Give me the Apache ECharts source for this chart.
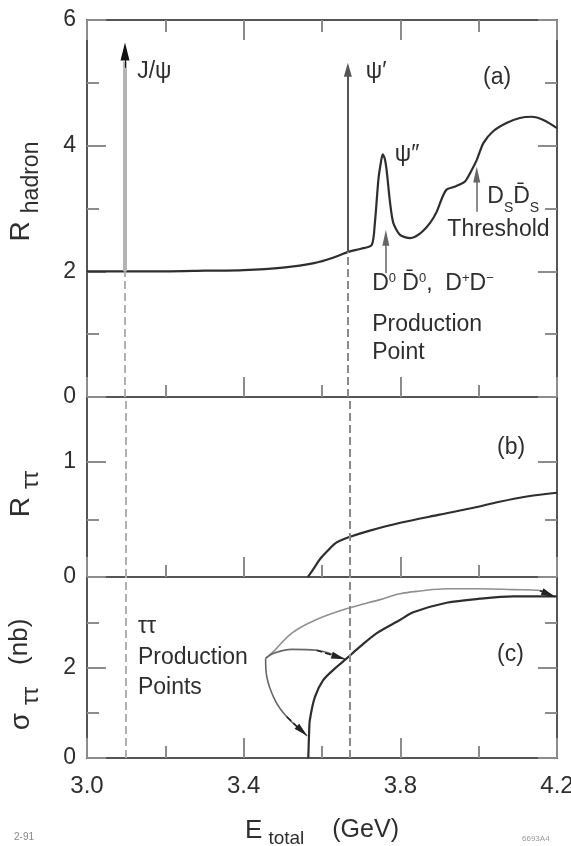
<!DOCTYPE html>
<html>
<head>
<meta charset="utf-8">
<script src="https://cdn.jsdelivr.net/npm/echarts@6/dist/echarts.min.js"></script>
<style>
  html, body { margin: 0; padding: 0; background: #fff; }
  #chart { width: 571px; height: 846px; }
</style>
</head>
<body>
<div id="chart"></div>
<script>
// energy axis (GeV)
var eTickLabels = ['3.0', '3.4', '3.8', '4.2']
var jpsiE = 3.097
var psiPrimeE = 3.666
var jpsiBase = 2.0
var psiPrimeBase = 2.31
var jpsiTop = 5.64
var psiPrimeTop = 5.32

// (a) R hadron
var rHadronE = [3.00, 3.20, 3.30, 3.40, 3.50, 3.58, 3.63, 3.667, 3.70, 3.727, 3.735, 3.744, 3.750, 3.755, 3.760, 3.765, 3.774, 3.782, 3.799, 3.825, 3.850, 3.876, 3.893, 3.906, 3.918, 3.940, 3.965, 3.982, 3.995, 4.012, 4.037, 4.071, 4.105, 4.135, 4.165, 4.20]
var rHadron = [2.00, 2.00, 2.01, 2.02, 2.06, 2.13, 2.22, 2.31, 2.36, 2.42, 2.77, 3.46, 3.72, 3.86, 3.80, 3.61, 3.08, 2.77, 2.58, 2.53, 2.60, 2.77, 2.95, 3.16, 3.30, 3.35, 3.43, 3.61, 3.77, 4.04, 4.23, 4.36, 4.44, 4.46, 4.41, 4.28]
// threshold arrows in (a): [energy, from, to]
var ddbarArrow = [3.763, 1.97, 2.66]
var dsArrow = [3.995, 2.95, 3.67]

// (b) R tau tau
var rTauE = [3.564, 3.580, 3.596, 3.615, 3.633, 3.650, 3.668, 3.720, 3.800, 3.900, 3.987, 4.050, 4.127, 4.200]
var rTau = [0, 0.08, 0.16, 0.23, 0.29, 0.32, 0.345, 0.40, 0.47, 0.54, 0.60, 0.65, 0.70, 0.73]

// (c) sigma tau tau (nb)
var sigmaE = [3.565, 3.567, 3.569, 3.582, 3.603, 3.633, 3.663, 3.697, 3.740, 3.799, 3.833, 3.918, 4.003, 4.088, 4.200]
var sigma = [0, 0.54, 0.84, 1.35, 1.72, 1.98, 2.20, 2.46, 2.76, 3.05, 3.22, 3.43, 3.52, 3.57, 3.57]

// leader lines from "Production Points" in (c)
var leaderUpperE = [3.456, 3.476, 3.523, 3.586, 3.667, 3.748, 3.799, 3.850, 3.918, 4.003, 4.088, 4.156, 4.195]
var leaderUpper = [2.20, 2.35, 2.76, 3.06, 3.31, 3.50, 3.63, 3.69, 3.74, 3.74, 3.72, 3.70, 3.56]
var leaderMidE = [3.456, 3.475, 3.523, 3.586, 3.659]
var leaderMid = [2.20, 2.31, 2.40, 2.38, 2.18]
var leaderLowE = [3.456, 3.459, 3.480, 3.510, 3.562]
var leaderLow = [2.20, 1.80, 1.28, 0.91, 0.49]

var AXIS = '#555'
var TICK = '#8c8c8c'
var INK = '#2e2e2e'
var FONT = 'Liberation Sans'

// pixels per data unit, [x, y], for panels (a) and (c)
var PX_A = [470 / 1.2, 377 / 6]
var PX_C = [470 / 1.2, 181 / 4]

var chart = echarts.init(document.getElementById('chart'))

function pairs (xs, ys) {
  return xs.map(function (x, i) { return [x, ys[i]] })
}

// move an arrow end back by half the head, so the tip lands on the point
function pullBack (from, to, px, half) {
  var dx = (to[0] - from[0]) * px[0]
  var dy = (to[1] - from[1]) * px[1]
  var len = Math.sqrt(dx * dx + dy * dy) || 1
  return [to[0] - dx / len * half / px[0], to[1] - dy / len * half / px[1]]
}

function xAxis (grid, pos, ticks, labels) {
  return {
    type: 'value',
    gridIndex: grid,
    position: pos,
    min: 3.0,
    max: 4.2,
    interval: 0.4,
    axisLine: { show: true, onZero: false, lineStyle: { color: AXIS, width: 2 } },
    axisTick: { show: ticks, inside: true, length: 20, lineStyle: { color: TICK, width: 2 } },
    minorTick: { show: ticks, splitNumber: 2, length: 12, lineStyle: { color: TICK, width: 2 } },
    axisLabel: {
      show: labels,
      margin: 16,
      color: INK,
      fontFamily: FONT,
      fontSize: 24,
      formatter: function (v, i) { return eTickLabels[i] }
    },
    splitLine: { show: false }
  }
}

function yAxis (grid, pos, max, o) {
  var ax = {
    type: 'value',
    gridIndex: grid,
    position: pos,
    min: 0,
    max: max,
    interval: o.interval,
    axisLine: { show: true, onZero: false, lineStyle: { color: AXIS, width: 2 } },
    axisTick: { show: true, inside: true, length: o.len || 19, lineStyle: { color: TICK, width: 2 } },
    minorTick: { show: !!o.minor, splitNumber: 2, length: 12, lineStyle: { color: TICK, width: 2 } },
    axisLabel: {
      show: !!o.labels,
      margin: 11,
      color: INK,
      fontFamily: FONT,
      fontSize: 23,
      showMaxLabel: o.maxLabel !== false
    },
    splitLine: { show: false }
  }
  if (o.tickValues) ax.axisTick.customValues = o.tickValues
  if (o.name) {
    ax.name = o.name
    ax.nameLocation = 'middle'
    ax.nameRotate = 90
    ax.nameGap = o.nameGap
    ax.nameTextStyle = { color: INK, rich: o.rich, padding: o.namePad || 0 }
  }
  return ax
}

var titleRich = {
  r: { fontFamily: FONT, fontSize: 28, lineHeight: 36, verticalAlign: 'top', color: INK, padding: [0, 8, 0, 0] },
  s: { fontFamily: FONT, fontSize: 23, lineHeight: 23, verticalAlign: 'bottom', color: INK },
  n: { fontFamily: FONT, fontSize: 26, lineHeight: 36, verticalAlign: 'top', color: INK, padding: [0, 0, 0, 22] }
}

function arrow (e, from, to, color, width, size) {
  var tip = pullBack([e, from], [e, to], PX_A, size[1] / 2)
  return [
    { coord: [e, from], symbol: 'none', lineStyle: { color: color, width: width, type: 'solid' } },
    { coord: tip, symbol: 'triangle', symbolSize: size }
  ]
}

function seg (e, from, to, color, width, type) {
  return [
    { coord: [e, from], symbol: 'none', lineStyle: { color: color, width: width, type: type } },
    { coord: [e, to], symbol: 'none' }
  ]
}

function headOf (xs, ys, color) {
  var n = xs.length
  var from = [xs[n - 2], ys[n - 2]]
  var tip = pullBack(from, [xs[n - 1], ys[n - 1]], PX_C, 7)
  return [
    { coord: from, symbol: 'none', lineStyle: { color: color, width: 1.5 } },
    { coord: tip, symbol: 'triangle', symbolSize: [7, 14] }
  ]
}

var dashedV = {
  silent: true,
  symbol: ['none', 'none'],
  label: { show: false },
  data: [
    { xAxis: jpsiE, lineStyle: { color: '#b0b0b0', width: 2, type: [8, 4] } },
    { xAxis: psiPrimeE, lineStyle: { color: '#8a8a8a', width: 2, type: [8, 4] } }
  ]
}

var markBase = { silent: true, symbol: ['none', 'none'], label: { show: false } }

function leader (xs, ys, color) {
  return {
    type: 'line',
    xAxisIndex: 4,
    yAxisIndex: 6,
    data: pairs(xs, ys),
    smooth: 0.35,
    showSymbol: false,
    lineStyle: { color: color, width: 1.6 },
    markLine: Object.assign({}, markBase, {
      data: [headOf(xs, ys, '#222')],
      lineStyle: { color: '#222' }
    }),
    z: 3
  }
}

chart.setOption({
  animation: false,
  backgroundColor: '#fff',
  grid: [
    { left: 87, right: 14, top: 20, height: 377, outerBoundsMode: 'none' },
    { left: 87, right: 14, top: 397, height: 180, outerBoundsMode: 'none' },
    { left: 87, right: 14, top: 577, height: 181, outerBoundsMode: 'none' }
  ],
  xAxis: [
    xAxis(0, 'bottom', true, false),
    xAxis(0, 'top', true, false),
    xAxis(1, 'bottom', true, false),
    xAxis(1, 'top', false, false),
    Object.assign(xAxis(2, 'bottom', true, true), {
      name: '{e|E}{s|total}{g|(GeV)}',
      nameLocation: 'middle',
      nameGap: 60,
      nameTextStyle: {
        rich: {
          e: { fontFamily: FONT, fontSize: 26, lineHeight: 30, verticalAlign: 'top', color: INK },
          s: { fontFamily: FONT, fontSize: 19, lineHeight: 19, verticalAlign: 'bottom', color: INK, padding: [0, 0, 0, 6] },
          g: { fontFamily: FONT, fontSize: 25, lineHeight: 30, verticalAlign: 'top', color: INK, padding: [0, 0, 0, 28] }
        }
      }
    }),
    xAxis(2, 'top', false, false)
  ],
  yAxis: [
    yAxis(0, 'left', 6, { interval: 2, minor: true, labels: true, name: '{r|R}{s|hadron}', rich: titleRich, nameGap: 44, namePad: [0, 0, 0, 34] }),
    yAxis(0, 'right', 6, { interval: 2, minor: true }),
    yAxis(1, 'left', 1.56, { interval: 1, labels: true, maxLabel: false, tickValues: [0, 1], name: '{r|R}{s|ττ}', rich: titleRich, nameGap: 44, namePad: [0, 14, 0, 0] }),
    yAxis(1, 'right', 1.56, { interval: 1, tickValues: [0, 1] }),
    yAxis(1, 'left', 1.56, { interval: 0.5, len: 12, tickValues: [0.5] }),
    yAxis(1, 'right', 1.56, { interval: 0.5, len: 12, tickValues: [0.5] }),
    yAxis(2, 'left', 4, { interval: 2, minor: true, labels: true, maxLabel: false, name: '{r|σ}{s|ττ}{n|(nb)}', rich: titleRich, nameGap: 44, namePad: [0, 14, 0, 0] }),
    yAxis(2, 'right', 4, { interval: 2, minor: true })
  ],
  series: [
    {
      type: 'line',
      xAxisIndex: 0,
      yAxisIndex: 0,
      data: pairs(rHadronE, rHadron),
      smooth: 0.25,
      showSymbol: false,
      lineStyle: { color: INK, width: 2.2 },
      z: 4,
      markLine: Object.assign({}, markBase, {
        data: [
          seg(jpsiE, 0, jpsiBase, '#b0b0b0', 2, [8, 4]),
          seg(psiPrimeE, 0, psiPrimeBase, '#8a8a8a', 2, [8, 4]),
          seg(jpsiE, jpsiBase, jpsiTop - 0.3, '#b4b4b4', 4, 'solid'),
          arrow(jpsiE, jpsiTop - 0.4, jpsiTop, '#111', 1, [9, 18]),
          arrow(psiPrimeE, psiPrimeBase, psiPrimeTop, '#555', 2, [8, 14]),
          arrow(ddbarArrow[0], ddbarArrow[1], ddbarArrow[2], '#666', 1.5, [7, 16]),
          arrow(dsArrow[0], dsArrow[1], dsArrow[2], '#666', 1.5, [7, 16])
        ]
      })
    },
    {
      type: 'line',
      xAxisIndex: 2,
      yAxisIndex: 2,
      data: pairs(rTauE, rTau),
      smooth: 0.3,
      showSymbol: false,
      lineStyle: { color: INK, width: 2.2 },
      z: 4,
      markLine: dashedV
    },
    {
      type: 'line',
      xAxisIndex: 4,
      yAxisIndex: 6,
      data: pairs(sigmaE, sigma),
      smooth: 0.3,
      showSymbol: false,
      lineStyle: { color: INK, width: 2.2 },
      z: 4,
      markLine: dashedV
    },
    leader(leaderUpperE, leaderUpper, '#8f8f8f'),
    leader(leaderMidE, leaderMid, '#666'),
    leader(leaderLowE, leaderLow, '#666')
  ]
})

// text notes, placed in data coordinates of each panel
var notes = [
  { g: 0, at: [3.128, 5.17], text: 'J/ψ' },
  { g: 0, at: [3.712, 5.17], text: 'ψ′' },
  { g: 0, at: [4.011, 5.08], text: '(a)' },
  { g: 0, at: [3.786, 3.85], text: 'ψ″' },
  { g: 0, at: [4.022, 3.14], text: '{d|D}{sb|S}{d|D̄}{sb|S}' },
  { g: 0, at: [3.920, 2.66], text: 'Threshold' },
  { g: 0, at: [3.728, 1.75], text: '{d|D}{sp|0}{d| D̄}{sp|0}{d|,  D}{sp|+}{d|D}{sp|−}' },
  { g: 0, at: [3.728, 1.15], text: 'Production' },
  { g: 0, at: [3.728, 0.70], text: 'Point' },
  { g: 1, at: [4.047, 1.12], text: '(b)' },
  { g: 2, at: [4.047, 2.28], text: '(c)' },
  { g: 2, at: [3.130, 2.90], text: 'ττ' },
  { g: 2, at: [3.130, 2.21], text: 'Production' },
  { g: 2, at: [3.130, 1.55], text: 'Points' }
]
var axisPairs = [[0, 0], [2, 2], [4, 6]]

var noteRich = {
  d: { fontFamily: FONT, fontSize: 23, lineHeight: 30, verticalAlign: 'top', fill: INK },
  sb: { fontFamily: FONT, fontSize: 14, lineHeight: 14, verticalAlign: 'bottom', fill: INK },
  sp: { fontFamily: FONT, fontSize: 13, lineHeight: 13, verticalAlign: 'top', fill: INK }
}

var graphics = notes.map(function (n) {
  var ax = axisPairs[n.g]
  var p = chart.convertToPixel({ xAxisIndex: ax[0], yAxisIndex: ax[1] }, n.at)
  return {
    type: 'text',
    x: p[0],
    y: p[1],
    silent: true,
    style: {
      text: n.text,
      fill: INK,
      fontFamily: FONT,
      fontSize: 23,
      align: 'left',
      verticalAlign: 'middle',
      rich: noteRich
    }
  }
})

graphics.push({
  type: 'text', left: 14, top: 832, silent: true,
  style: { text: '2-91', fill: '#888', fontFamily: FONT, fontSize: 10 }
})
graphics.push({
  type: 'text', left: 522, top: 835, silent: true,
  style: { text: '6693A4', fill: '#999', fontFamily: FONT, fontSize: 8 }
})

chart.setOption({ graphic: graphics })
</script>
</body>
</html>
